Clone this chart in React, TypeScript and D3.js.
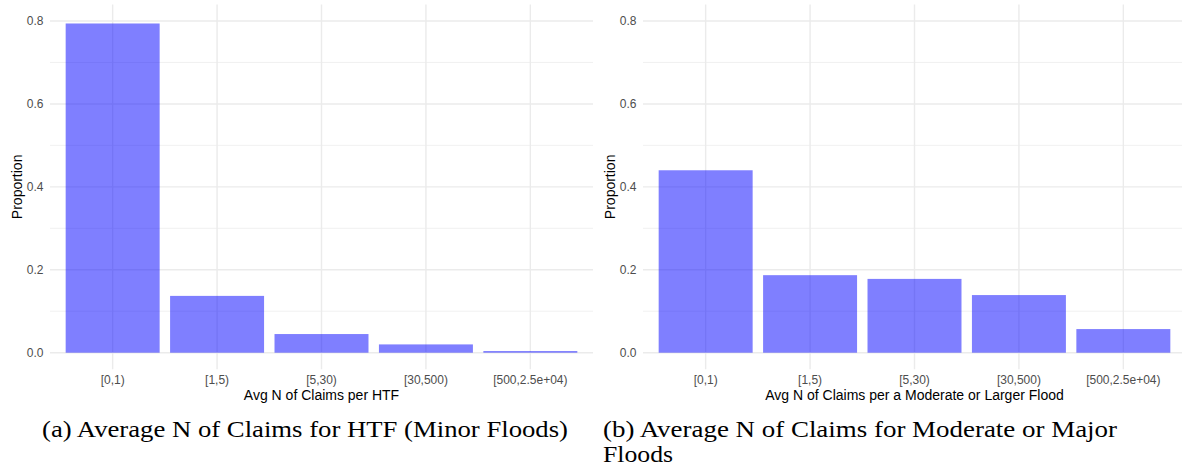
import React from 'react';
import { scaleBand, scaleLinear } from 'd3';

const categories = ['[0,1)', '[1,5)', '[5,30)', '[30,500)', '[500,2.5e+04)'];
const htfProportion = [0.794, 0.137, 0.045, 0.02, 0.004];
const moderateProportion = [0.44, 0.187, 0.178, 0.139, 0.057];
const yTicks = [0, 0.2, 0.4, 0.6, 0.8];
const yMinorTicks = [0.1, 0.3, 0.5, 0.7];

const W = 1182;
const H = 469;
const sans = 'Liberation Sans, Arial, sans-serif';
const serif = 'Liberation Serif, Times New Roman, serif';

const yScale = scaleLinear().domain([0, 0.8]).range([352.7, 21]);
const panelTop = yScale(0.84);
const panelBottom = yScale(-0.04);

const Panel = ({ left, right, values, xTitle }) => {
  const x = scaleBand()
    .domain(categories)
    .range([left, right])
    .paddingInner(0.1)
    .paddingOuter(0.15);
  const mid = (left + right) / 2;
  return (
    <g>
      {yMinorTicks.map((t) => (
        <line key={'m' + t} x1={left} x2={right} y1={yScale(t)} y2={yScale(t)}
          stroke="#ebebeb" strokeWidth={0.7} />
      ))}
      {yTicks.map((t) => (
        <line key={'y' + t} x1={left} x2={right} y1={yScale(t)} y2={yScale(t)}
          stroke="#ebebeb" strokeWidth={1.4} />
      ))}
      {categories.map((c) => (
        <line key={'v' + c} x1={x(c) + x.bandwidth() / 2} x2={x(c) + x.bandwidth() / 2}
          y1={panelTop} y2={panelBottom} stroke="#ebebeb" strokeWidth={1.4} />
      ))}
      {categories.map((c, i) => (
        <rect key={'b' + c} x={x(c)} width={x.bandwidth()} y={yScale(values[i])}
          height={yScale(0) - yScale(values[i])} fill="#0000ff" fillOpacity={0.5} />
      ))}
      {yTicks.map((t) => (
        <text key={'l' + t} x={left - 6.5} y={yScale(t)} dy="0.35em" textAnchor="end"
          fontFamily={sans} fontSize={12} fill="#4d4d4d">{t.toFixed(1)}</text>
      ))}
      {categories.map((c) => (
        <text key={'xl' + c} x={x(c) + x.bandwidth() / 2} y={384} textAnchor="middle"
          fontFamily={sans} fontSize={12} fill="#4d4d4d">{c}</text>
      ))}
      <text x={mid} y={400} textAnchor="middle" fontFamily={sans} fontSize={14} fill="#000">
        {xTitle}
      </text>
      <text transform={`translate(${left - 28.3},${(panelTop + panelBottom) / 2}) rotate(-90)`}
        textAnchor="middle" fontFamily={sans} fontSize={14} fill="#000">Proportion</text>
    </g>
  );
};

export default function App() {
  return (
    <svg width={W} height={H} style={{ position: 'absolute', left: 0, top: 0, background: '#fff' }}>
      <rect width={W} height={H} fill="#fff" />
      <Panel left={50} right={593} values={htfProportion} xTitle="Avg N of Claims per HTF" />
      <Panel left={643} right={1186} values={moderateProportion}
        xTitle="Avg N of Claims per a Moderate or Larger Flood" />
      <text x={42} y={437} fontFamily={serif} fontSize={24} fill="#000"
        textLength={526} lengthAdjust="spacingAndGlyphs">(a) Average N of Claims for HTF (Minor Floods)</text>
      <text x={603} y={437} fontFamily={serif} fontSize={24} fill="#000"
        textLength={514} lengthAdjust="spacingAndGlyphs">(b) Average N of Claims for Moderate or Major</text>
      <text x={603} y={462} fontFamily={serif} fontSize={24} fill="#000"
        textLength={70} lengthAdjust="spacingAndGlyphs">Floods</text>
    </svg>
  );
}
